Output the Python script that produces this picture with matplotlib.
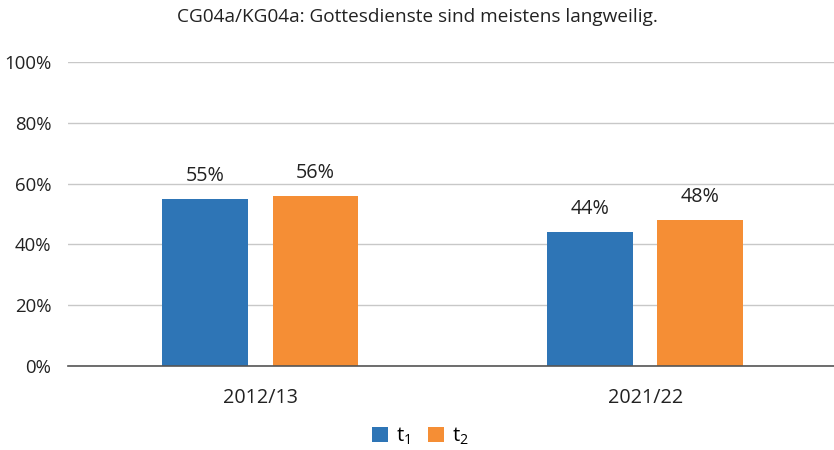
import numpy as np
import matplotlib.pyplot as plt

plt.rcParams['font.family'] = ['Open Sans', 'DejaVu Sans']

title = "CG04a/KG04a: Gottesdienste sind meistens langweilig."
years = ["2012/13", "2021/22"]
t1 = [55, 44]
t2 = [56, 48]

blue = "#2E75B6"
orange = "#F58E35"
txt = "#222222"

fig = plt.figure(figsize=(8.34, 4.5), dpi=100)
ax = fig.add_axes([0.0815, 0.1867, 0.923, 0.6755])

x = np.arange(len(years))
w = 0.223
off = 0.143
b1 = ax.bar(x - off, t1, w, color=blue, label=r"t$_\mathregular{1}$", zorder=3)
b2 = ax.bar(x + off, t2, w, color=orange, label=r"t$_\mathregular{2}$", zorder=3)

for bars, vals in ((b1, t1), (b2, t2)):
    for rect, v in zip(bars, vals):
        ax.text(rect.get_x() + rect.get_width() / 2, v + 4.2, f"{v}%",
                ha="center", va="bottom", fontsize=14.2, color=txt)

ax.set_xlim(-0.5, 1.5)
ax.set_ylim(0, 100)
ax.set_yticks(range(0, 101, 20))
ax.set_yticklabels([f"{v}%" for v in range(0, 101, 20)], fontsize=13.4, color=txt)
ax.set_xticks(x)
ax.set_xticklabels(years, fontsize=14.2, color=txt)
ax.tick_params(axis="y", length=0, pad=12)
ax.tick_params(axis="x", length=0, pad=16)
ax.yaxis.grid(True, color="#C8C8C8", linewidth=1)
for s in ("top", "right", "left"):
    ax.spines[s].set_visible(False)
ax.spines["bottom"].set_color("#555555")
ax.spines["bottom"].set_linewidth(1.2)
ax.spines["bottom"].set_zorder(4)

fig.text(0.5, 0.962, title, ha="center", va="center", fontsize=13.7, color=txt)

fig.legend(loc="center", bbox_to_anchor=(0.504, 0.031), ncol=2, frameon=False,
           fontsize=14.5, handlelength=0.8, handleheight=0.8, columnspacing=0.9,
           handletextpad=0.4)

fig.savefig("out.png", dpi=100)
